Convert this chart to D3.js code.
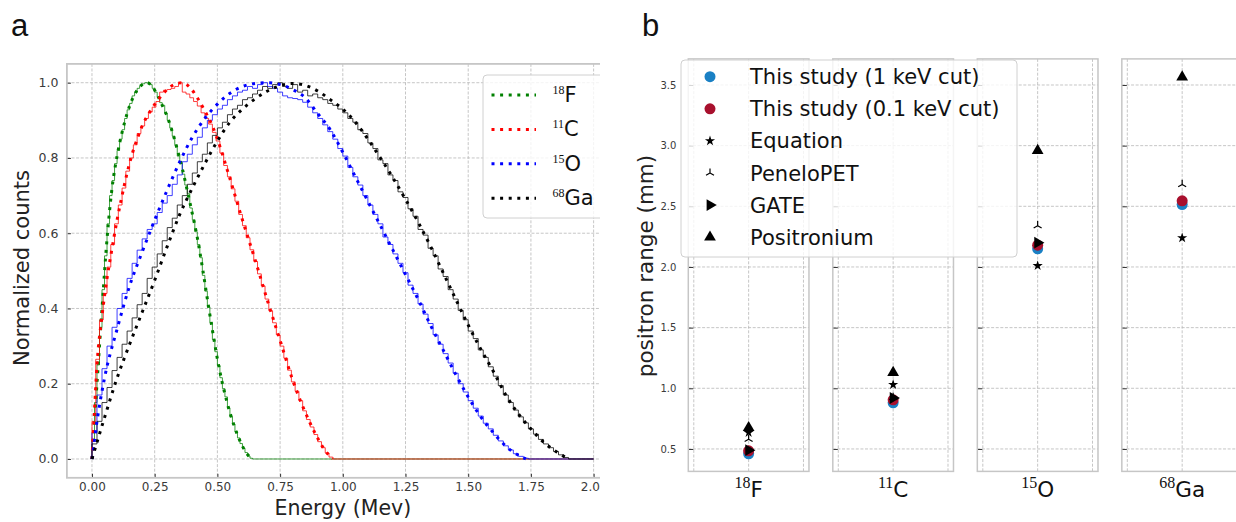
<!DOCTYPE html>
<html>
<head>
<meta charset="utf-8">
<script src="https://cdn.jsdelivr.net/npm/d3@7"></script>
<style>
  body { margin: 0; background: #fff; }
  svg { display: block; font-family: "DejaVu Sans", sans-serif; }
  .grid { stroke: #b8b8b8; stroke-width: 0.8; stroke-dasharray: 3,1.6; }
</style>
</head>
<body>
<svg width="1236" height="522"></svg>
<script>
// ---------- panel a data ----------
const isoMass = ["18", "11", "15", "68"];
const isoSym = ["F", "C", "O", "Ga"];
const isoColor = ["green", "red", "blue", "black"];

// dotted spectra (MeV, normalized counts)
const fEnergy = [0, 0.02, 0.04, 0.06, 0.08, 0.10, 0.12, 0.14, 0.16, 0.18, 0.20, 0.22, 0.24, 0.26, 0.28, 0.30, 0.32, 0.34, 0.36, 0.38, 0.40, 0.42, 0.44, 0.46, 0.48, 0.50, 0.52, 0.54, 0.56, 0.58, 0.60, 0.62, 0.64];
const fCounts = [0, 0.20, 0.40, 0.585, 0.72, 0.805, 0.868, 0.918, 0.955, 0.98, 0.995, 1.0, 0.99, 0.968, 0.94, 0.91, 0.87, 0.823, 0.772, 0.713, 0.652, 0.588, 0.51, 0.425, 0.343, 0.266, 0.201, 0.147, 0.102, 0.064, 0.034, 0.012, 0];

const cEnergy = [0, 0.01, 0.02, 0.04, 0.06, 0.08, 0.10, 0.12, 0.14, 0.16, 0.18, 0.20, 0.23, 0.27, 0.30, 0.33, 0.36, 0.39, 0.42, 0.45, 0.48, 0.50, 0.55, 0.60, 0.65, 0.70, 0.75, 0.80, 0.84, 0.87, 0.90, 0.93, 0.96];
const cCounts = [0, 0.13, 0.25, 0.38, 0.48, 0.56, 0.635, 0.70, 0.76, 0.81, 0.85, 0.885, 0.922, 0.96, 0.982, 0.996, 1.0, 0.988, 0.96, 0.925, 0.885, 0.85, 0.745, 0.635, 0.53, 0.42, 0.315, 0.21, 0.14, 0.095, 0.055, 0.022, 0];

const oEnergy = [0, 0.02, 0.05, 0.10, 0.15, 0.20, 0.25, 0.30, 0.35, 0.40, 0.45, 0.50, 0.55, 0.60, 0.65, 0.70, 0.75, 0.80, 0.85, 0.90, 0.95, 1.00, 1.05, 1.10, 1.15, 1.20, 1.25, 1.30, 1.35, 1.40, 1.45, 1.50, 1.55, 1.60, 1.65, 1.70, 1.73];
const oCounts = [0, 0.10, 0.215, 0.345, 0.46, 0.55, 0.635, 0.715, 0.79, 0.855, 0.905, 0.943, 0.972, 0.99, 0.998, 1.0, 0.995, 0.982, 0.96, 0.918, 0.875, 0.815, 0.75, 0.685, 0.62, 0.555, 0.49, 0.425, 0.355, 0.29, 0.225, 0.165, 0.112, 0.07, 0.034, 0.01, 0];

const gaEnergy = [0, 0.05, 0.10, 0.15, 0.20, 0.25, 0.30, 0.35, 0.40, 0.45, 0.50, 0.55, 0.60, 0.65, 0.70, 0.75, 0.80, 0.85, 0.90, 0.95, 1.00, 1.05, 1.10, 1.15, 1.20, 1.25, 1.30, 1.35, 1.40, 1.45, 1.50, 1.55, 1.60, 1.65, 1.70, 1.75, 1.80, 1.85, 1.90];
const gaCounts = [0, 0.11, 0.215, 0.305, 0.39, 0.475, 0.565, 0.65, 0.72, 0.785, 0.845, 0.895, 0.93, 0.957, 0.978, 0.992, 0.998, 0.993, 0.978, 0.955, 0.93, 0.895, 0.85, 0.80, 0.747, 0.69, 0.63, 0.565, 0.495, 0.425, 0.356, 0.292, 0.233, 0.17, 0.12, 0.08, 0.045, 0.02, 0];

// step histograms (bin width in MeV, bin heights), flat at zero up to histRangeEnd
const histBinWidth = [0.01, 0.015, 0.02, 0.02];
const histRangeEnd = 2.0;
const fHist = [0.05, 0.15, 0.25, 0.35, 0.45, 0.54, 0.625, 0.70, 0.74, 0.785, 0.82, 0.85, 0.875, 0.905, 0.928, 0.945, 0.965, 0.975, 0.985, 0.992, 0.997, 1.0, 0.999, 0.995, 0.985, 0.975, 0.962, 0.947, 0.94, 0.918, 0.9, 0.88, 0.858, 0.835, 0.805, 0.785, 0.757, 0.728, 0.705, 0.667, 0.636, 0.604, 0.57, 0.535, 0.488, 0.446, 0.404, 0.363, 0.318, 0.285, 0.249, 0.216, 0.187, 0.165, 0.135, 0.112, 0.092, 0.073, 0.056, 0.041, 0.028, 0.017, 0.008, 0.002];
const cHist = [0.10, 0.265, 0.37, 0.44, 0.51, 0.57, 0.625, 0.675, 0.72, 0.765, 0.80, 0.835, 0.865, 0.885, 0.905, 0.922, 0.935, 0.95, 0.975, 0.98, 0.982, 0.985, 0.99, 1.0, 0.975, 0.97, 0.96, 0.95, 0.938, 0.92, 0.905, 0.89, 0.868, 0.845, 0.813, 0.78, 0.75, 0.718, 0.685, 0.65, 0.62, 0.588, 0.556, 0.525, 0.492, 0.46, 0.425, 0.394, 0.362, 0.33, 0.30, 0.268, 0.236, 0.205, 0.18, 0.155, 0.128, 0.105, 0.085, 0.065, 0.046, 0.03, 0.016, 0.005];
const oHist = [0.07, 0.17, 0.24, 0.30, 0.35, 0.40, 0.44, 0.48, 0.52, 0.555, 0.585, 0.61, 0.625, 0.655, 0.68, 0.70, 0.73, 0.755, 0.79, 0.81, 0.835, 0.855, 0.88, 0.90, 0.915, 0.93, 0.94, 0.955, 0.965, 0.975, 0.98, 0.99, 0.985, 0.995, 1.0, 0.99, 0.985, 0.975, 0.965, 0.96, 0.958, 0.955, 0.948, 0.935, 0.92, 0.905, 0.888, 0.87, 0.85, 0.825, 0.805, 0.775, 0.75, 0.728, 0.70, 0.675, 0.65, 0.625, 0.59, 0.57, 0.545, 0.52, 0.495, 0.462, 0.44, 0.412, 0.385, 0.36, 0.33, 0.305, 0.28, 0.255, 0.228, 0.20, 0.178, 0.155, 0.135, 0.114, 0.095, 0.08, 0.063, 0.048, 0.035, 0.024, 0.014, 0.007, 0.002];
const gaHist = [0.04, 0.10, 0.15, 0.19, 0.235, 0.27, 0.305, 0.34, 0.375, 0.41, 0.44, 0.48, 0.51, 0.545, 0.58, 0.615, 0.64, 0.675, 0.70, 0.73, 0.76, 0.79, 0.81, 0.84, 0.86, 0.88, 0.895, 0.915, 0.93, 0.94, 0.955, 0.96, 0.97, 0.98, 0.99, 0.985, 0.995, 1.0, 0.99, 0.985, 0.995, 0.975, 0.98, 0.965, 0.97, 0.96, 0.955, 0.945, 0.94, 0.93, 0.92, 0.905, 0.895, 0.875, 0.865, 0.84, 0.825, 0.795, 0.785, 0.755, 0.74, 0.71, 0.695, 0.665, 0.645, 0.61, 0.595, 0.56, 0.54, 0.505, 0.485, 0.45, 0.425, 0.395, 0.37, 0.34, 0.32, 0.29, 0.27, 0.245, 0.22, 0.195, 0.17, 0.15, 0.13, 0.112, 0.096, 0.08, 0.066, 0.052, 0.04, 0.03, 0.02, 0.011, 0.004];

const xTicksA = [0, 0.25, 0.5, 0.75, 1.0, 1.25, 1.5, 1.75, 2.0];
const yTicksA = [0, 0.2, 0.4, 0.6, 0.8, 1.0];

// ---------- panel b data (positron range, mm) ----------
const seriesNames = ["This study (1 keV cut)", "This study (0.1 keV cut)", "Equation", "PeneloPET", "GATE", "Positronium"];
const cut1Range = [0.46, 0.88, 2.15, 2.515];
const cut01Range = [0.485, 0.905, 2.18, 2.545];
const equationRange = [0.635, 1.03, 2.01, 2.24];
const peneloRange = [0.58, 0.925, 2.34, 2.68];
const gateRange = [0.49, 0.92, 2.20, null];
const positroniumRange = [0.675, 1.13, 2.96, 3.565];
const yTicksB = [0.5, 1.0, 1.5, 2.0, 2.5, 3.0, 3.5];

// ---------- drawing ----------
const svg = d3.select("svg");
const tickColor = "#3a3a3a";
const frameColor = "#c6c6c6";

svg.append("defs").append("clipPath").attr("id", "clipA")
  .append("rect").attr("x", 0).attr("y", 0).attr("width", 600).attr("height", 522);

// panel a
const xA = d3.scaleLinear().domain([-0.1, 2.1]).range([66.9, 618.7]);
const yA = d3.scaleLinear().domain([-0.05, 1.05]).range([477.8, 63.9]);
const gA = svg.append("g").attr("clip-path", "url(#clipA)");

gA.append("g").selectAll("line").data(xTicksA).join("line")
  .attr("class", "grid")
  .attr("x1", d => xA(d)).attr("x2", d => xA(d))
  .attr("y1", yA.range()[1]).attr("y2", yA.range()[0]);
gA.append("g").selectAll("line").data(yTicksA).join("line")
  .attr("class", "grid")
  .attr("x1", xA.range()[0]).attr("x2", xA.range()[1])
  .attr("y1", d => yA(d)).attr("y2", d => yA(d));

const styleAxis = (g, size) => {
  g.select(".domain").remove();
  g.selectAll(".tick line").attr("stroke", "#333").attr("stroke-width", 1);
  g.selectAll(".tick text").attr("fill", tickColor)
    .attr("font-family", "DejaVu Sans").attr("font-size", size);
};

gA.append("g").attr("transform", `translate(0,${yA.range()[0]})`)
  .call(d3.axisBottom(xA).tickValues(xTicksA).tickSize(-4).tickPadding(5).tickFormat(d3.format(".2f")))
  .call(g => styleAxis(g, 12));
gA.append("g").attr("transform", `translate(${xA.range()[0]},0)`)
  .call(d3.axisLeft(yA).tickValues(yTicksA).tickSize(-4).tickPadding(8.5).tickFormat(d3.format(".1f")))
  .call(g => styleAxis(g, 12.5));

// histograms
const histLine = d3.line().x(d => xA(d[0])).y(d => yA(d[1])).curve(d3.curveStepAfter);
const histPoints = (h, w) => {
  const pts = [[0, 0]];
  h.forEach((v, i) => pts.push([i * w, v]));
  pts.push([h.length * w, 0]);
  pts.push([histRangeEnd, 0]);
  return pts;
};
[fHist, cHist, oHist, gaHist].forEach((h, i) => {
  gA.append("path")
    .attr("d", histLine(histPoints(h, histBinWidth[i])))
    .attr("fill", "none")
    .attr("stroke", isoColor[i])
    .attr("stroke-opacity", 0.75)
    .attr("stroke-width", 1);
});

// dotted spectra
const dotLine = d3.line().x(d => xA(d[0])).y(d => yA(d[1])).curve(d3.curveMonotoneX);
[[fEnergy, fCounts], [cEnergy, cCounts], [oEnergy, oCounts], [gaEnergy, gaCounts]].forEach(([e, c], i) => {
  gA.append("path")
    .attr("d", dotLine(e.map((x, k) => [x, c[k]])))
    .attr("fill", "none")
    .attr("stroke", isoColor[i])
    .attr("stroke-width", 3)
    .attr("stroke-dasharray", "3,5.6");
});

// frame a
gA.append("rect")
  .attr("x", xA.range()[0]).attr("y", yA.range()[1])
  .attr("width", xA.range()[1] - xA.range()[0])
  .attr("height", yA.range()[0] - yA.range()[1])
  .attr("fill", "none").attr("stroke", frameColor).attr("stroke-width", 1.8);

// legend a
const legA = gA.append("g");
legA.append("rect")
  .attr("x", 483).attr("y", 75).attr("width", 140).attr("height", 143).attr("rx", 4)
  .attr("fill", "#fff").attr("fill-opacity", 0.8)
  .attr("stroke", "#d0d0d0").attr("stroke-width", 1);
isoSym.forEach((s, i) => {
  const ry = 95 + i * 34.4;
  legA.append("line")
    .attr("x1", 491.5).attr("x2", 536).attr("y1", ry).attr("y2", ry)
    .attr("stroke", isoColor[i]).attr("stroke-width", 3).attr("stroke-dasharray", "3,5.6");
  const t = legA.append("text").attr("x", 552.5).attr("y", ry + 7).attr("fill", "#111");
  t.append("tspan").attr("font-family", "Liberation Serif").attr("font-size", 12).attr("dy", -8).text(isoMass[i]);
  t.append("tspan").attr("font-size", 21).attr("dy", 8).text(s);
});

// axis titles a
svg.append("text")
  .attr("x", xA(1.0)).attr("y", 515)
  .attr("text-anchor", "middle").attr("font-size", 20.5).attr("fill", "#222")
  .text("Energy (Mev)");
svg.append("text")
  .attr("transform", "translate(29,268) rotate(-90)")
  .attr("text-anchor", "middle").attr("font-size", 21).attr("fill", "#222")
  .text("Normalized counts");

// panel letters
svg.append("text").attr("x", 11).attr("y", 36).attr("font-family", "Liberation Sans")
  .attr("font-size", 31).attr("fill", "#111").text("a");
svg.append("text").attr("x", 642).attr("y", 36).attr("font-family", "Liberation Sans")
  .attr("font-size", 31).attr("fill", "#111").text("b");

// panel b
const band = d3.scaleBand().domain(isoSym).range([688.3, 1242.5]).paddingInner(0.165).paddingOuter(0);
const yB = d3.scaleLinear().domain([0.315, 3.715]).range([471.4, 58.9]);
const seriesValues = [cut1Range, cut01Range, equationRange, peneloRange, gateRange, positroniumRange];
const seriesColor = ["#1a80c4", "#a8102d", "#000", "#000", "#000", "#000"];

const triUpPath = s => `M0,0V${-s}M0,0L${-0.866 * s},${0.5 * s}M0,0L${0.866 * s},${0.5 * s}`;
const drawMarker = (g, k, cx, cy) => {
  if (k === 0 || k === 1) {
    g.append("circle").attr("cx", cx).attr("cy", cy).attr("r", 5.5).attr("fill", seriesColor[k]);
  } else if (k === 2) {
    g.append("path").attr("d", d3.symbol(d3.symbolStar, 32)())
      .attr("transform", `translate(${cx},${cy})`).attr("fill", "#000");
  } else if (k === 3) {
    g.append("path").attr("d", triUpPath(4.6))
      .attr("transform", `translate(${cx},${cy})`)
      .attr("fill", "none").attr("stroke", "#000").attr("stroke-width", 1.2);
  } else if (k === 4) {
    g.append("path").attr("d", d3.symbol(d3.symbolTriangle, 60)())
      .attr("transform", `translate(${cx},${cy}) rotate(90)`).attr("fill", "#000");
  } else {
    g.append("path").attr("d", d3.symbol(d3.symbolTriangle, 60)())
      .attr("transform", `translate(${cx},${cy})`).attr("fill", "#000");
  }
};

isoSym.forEach((s, i) => {
  const x0 = band(s);
  const xB = d3.scaleLinear().domain([-1.1, 1.1]).range([x0, x0 + band.bandwidth()]);
  const g = svg.append("g");

  g.append("g").selectAll("line").data([-1, 0, 1]).join("line")
    .attr("class", "grid")
    .attr("x1", d => xB(d)).attr("x2", d => xB(d))
    .attr("y1", yB.range()[1]).attr("y2", yB.range()[0]);
  g.append("g").selectAll("line").data(yTicksB).join("line")
    .attr("class", "grid")
    .attr("x1", xB.range()[0]).attr("x2", xB.range()[1])
    .attr("y1", d => yB(d)).attr("y2", d => yB(d));

  const ax = d3.axisLeft(yB).tickValues(yTicksB).tickSize(-5).tickPadding(12)
    .tickFormat(i === 0 ? d3.format(".1f") : () => "");
  g.append("g").attr("transform", `translate(${x0},0)`).call(ax).call(a => styleAxis(a, 10));

  g.append("rect")
    .attr("x", xB.range()[0]).attr("y", yB.range()[1])
    .attr("width", band.bandwidth()).attr("height", yB.range()[0] - yB.range()[1])
    .attr("fill", "none").attr("stroke", frameColor).attr("stroke-width", 1.5);

  seriesValues.forEach((vals, k) => {
    if (vals[i] == null) return;
    drawMarker(g, k, xB(0), yB(vals[i]));
  });

  const t = g.append("text").attr("x", xB(0)).attr("y", 497)
    .attr("text-anchor", "middle").attr("fill", "#111");
  t.append("tspan").attr("font-family", "Liberation Serif").attr("font-size", 16).attr("dy", -9).text(isoMass[i]);
  t.append("tspan").attr("font-size", 21.5).attr("dy", 9).text(s);
});

// legend b
const legB = svg.append("g");
legB.append("rect")
  .attr("x", 681).attr("y", 60).attr("width", 336).attr("height", 197).attr("rx", 4)
  .attr("fill", "#fff").attr("fill-opacity", 0.8)
  .attr("stroke", "#d0d0d0").attr("stroke-width", 1);
seriesNames.forEach((name, k) => {
  const ry = 76.7 + k * 32.1;
  drawMarker(legB, k, 710, ry);
  legB.append("text").attr("x", 750).attr("y", ry + 7.5)
    .attr("font-size", 21).attr("fill", "#111").text(name);
});

// axis title b
svg.append("text")
  .attr("transform", "translate(653,266) rotate(-90)")
  .attr("text-anchor", "middle").attr("font-size", 21.5).attr("fill", "#222")
  .text("positron range (mm)");
</script>
</body>
</html>
